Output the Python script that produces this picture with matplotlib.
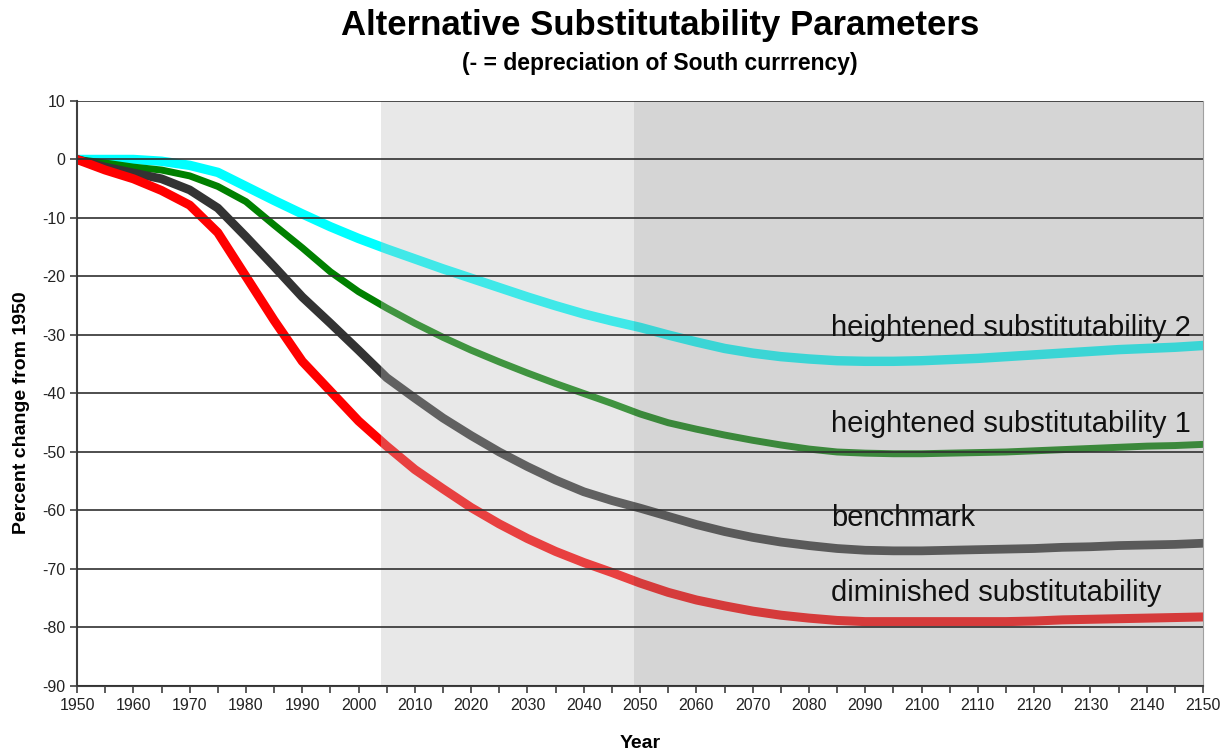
import matplotlib
matplotlib.use("Agg")
import matplotlib.pyplot as plt
from matplotlib.ticker import MultipleLocator

plt.rcParams['font.family'] = ['Liberation Sans', 'DejaVu Sans']
plt.rcParams['axes.unicode_minus'] = False

# values every 5 years
years = list(range(1950, 2151, 5))
hs2 = [0, 0, 0, -0.3, -1.0, -2.2, -4.6, -7.0, -9.3, -11.5, -13.5, -15.3, -17.0, -18.7,
       -20.3, -21.9, -23.5, -25.0, -26.4, -27.6, -28.7, -30.0, -31.2, -32.3, -33.1, -33.7,
       -34.1, -34.4, -34.5, -34.5, -34.4, -34.2, -34.0, -33.7, -33.4, -33.1, -32.8, -32.5,
       -32.3, -32.1, -31.8]
hs1 = [0, -0.6, -1.3, -1.8, -2.8, -4.6, -7.2, -11.2, -15.1, -19.2, -22.6, -25.4, -28.0, -30.4,
       -32.6, -34.6, -36.5, -38.3, -40.0, -41.7, -43.5, -45.0, -46.1, -47.1, -48.0, -48.8,
       -49.5, -50.0, -50.2, -50.3, -50.3, -50.2, -50.1, -50.0, -49.8, -49.6, -49.4, -49.2,
       -49.0, -48.9, -48.7]
bench = [0, -1.3, -2.3, -3.3, -5.2, -8.3, -13.2, -18.3, -23.5, -28.0, -32.6, -37.3, -40.8, -44.2,
         -47.2, -50.0, -52.5, -54.8, -56.8, -58.3, -59.6, -61.0, -62.4, -63.6, -64.6, -65.4,
         -66.0, -66.5, -66.8, -66.9, -66.9, -66.8, -66.7, -66.6, -66.5, -66.3, -66.2, -66.0,
         -65.9, -65.8, -65.6]
dimin = [0, -1.8, -3.3, -5.3, -7.8, -12.5, -20.0, -27.5, -34.5, -39.6, -44.7, -49.0, -53.0, -56.3,
         -59.5, -62.3, -64.8, -67.0, -68.9, -70.6, -72.4, -74.0, -75.3, -76.3, -77.2, -77.9,
         -78.4, -78.8, -79.0, -79.0, -79.0, -79.0, -79.0, -79.0, -78.9, -78.7, -78.6, -78.5,
         -78.4, -78.3, -78.2]

series = [
    ("heightened substitutability 2", hs2, "#00ffff", 6.8, -28.8),
    ("heightened substitutability 1", hs1, "#008000", 5.0, -45.2),
    ("benchmark", bench, "#333333", 6.3, -61.3),
    ("diminished substitutability", dimin, "#ff0000", 6.5, -74.1),
]

fig = plt.figure(figsize=(12.25, 7.52), dpi=100)
ax = fig.add_axes([0.0629, 0.0878, 0.9192, 0.7779])

for name, vals, col, lw, ly in series:
    ax.plot(years, vals, color=col, lw=lw, zorder=2.1, solid_joinstyle='round')
    ax.text(2084, ly, name, fontsize=21, color='#111111', va='center', ha='left', zorder=5)

# shaded projection periods, drawn over the lines like the original
ax.axvspan(2004, 2049, color='#bcbcbc', alpha=0.34, lw=0, zorder=2.2)
ax.axvspan(2049, 2150, color='#969696', alpha=0.40, lw=0, zorder=2.2)

ax.set_xlim(1950, 2150)
ax.set_ylim(-90, 10)
ax.xaxis.set_major_locator(MultipleLocator(10))
ax.xaxis.set_minor_locator(MultipleLocator(5))
ax.yaxis.set_major_locator(MultipleLocator(10))
ax.set_axisbelow(False)
ax.grid(axis='y', color='#303030', lw=1.2)
ax.tick_params(axis='both', direction='out', length=5, width=1.2, color='#404040',
               labelsize=11.5, labelcolor='#222222')
ax.tick_params(axis='x', which='minor', direction='out', length=5, width=1.2, color='#404040')

for s in ['left', 'bottom']:
    ax.spines[s].set_color('#404040')
    ax.spines[s].set_linewidth(1.5)
ax.spines['top'].set_visible(False)
ax.spines['right'].set_color('#a0a0a0')

ax.set_ylabel('Percent change from 1950', fontsize=14, fontweight='bold')
ax.yaxis.set_label_coords(-0.042, 0.467)
ax.set_xlabel('Year', fontsize=14, fontweight='bold', labelpad=16)

fig.text(0.539, 0.966, 'Alternative Substitutability Parameters', fontsize=25,
         fontweight='bold', ha='center', va='center')
fig.text(0.539, 0.916, '(- = depreciation of South currrency)', fontsize=16.5,
         fontweight='bold', ha='center', va='center')

fig.savefig('out.png', dpi=100)
